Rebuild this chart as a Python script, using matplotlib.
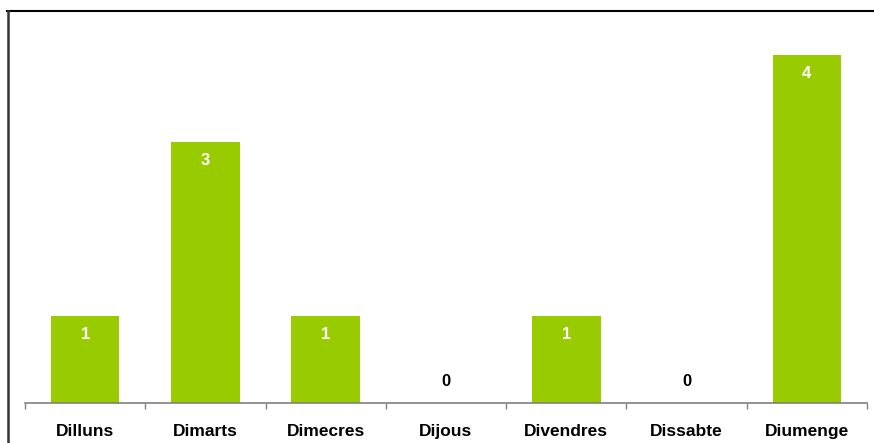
import matplotlib
matplotlib.use("Agg")
import matplotlib.pyplot as plt
from matplotlib.lines import Line2D

plt.rcParams['font.family'] = ['Liberation Sans', 'DejaVu Sans']

days = ['Dilluns', 'Dimarts', 'Dimecres', 'Dijous', 'Divendres', 'Dissabte', 'Diumenge']
counts = [1, 3, 1, 0, 1, 0, 4]

W, H = 874, 443
fig = plt.figure(figsize=(W / 100, H / 100), dpi=100)
ax = fig.add_axes([25 / W, 40 / H, (867 - 25) / W, (403 - 11) / H])

x = list(range(len(days)))
ax.bar(x, counts, width=0.57, color='#99CC00', zorder=2)

# value labels: white inside the bar, black above the axis for zeros
for xi, v in zip(x, counts):
    if v > 0:
        ax.annotate(str(v), (xi, v), xytext=(0, -19), textcoords='offset pixels',
                    ha='center', va='center', color='white', fontsize=12, fontweight='bold')
    else:
        ax.annotate(str(v), (xi, 0), xytext=(0, 22), textcoords='offset pixels',
                    ha='center', va='center', color='black', fontsize=12, fontweight='bold')

ax.set_xlim(-0.5, len(days) - 0.5)
ax.set_ylim(0, 4.5)
ax.set_yticks([])

# category boundaries carry the tick marks, names sit on the minor ticks
ax.set_xticks([i - 0.5 for i in range(len(days) + 1)])
ax.set_xticklabels([])
ax.set_xticks(x, minor=True)
ax.set_xticklabels(days, minor=True, fontsize=12.5, fontweight='bold')
ax.tick_params(axis='x', which='minor', length=0, pad=15)
ax.tick_params(axis='x', which='major', length=4, width=1, color='#808080', direction='out')

for s in ['left', 'top', 'right']:
    ax.spines[s].set_visible(False)
ax.spines['bottom'].set_color('#808080')
ax.spines['bottom'].set_linewidth(1.2)

# outer chart frame, cut off at the right and bottom edges
fig.add_artist(Line2D([7 / W, 1], [1 - 11 / H, 1 - 11 / H], transform=fig.transFigure,
                      color='black', linewidth=1.5))
fig.add_artist(Line2D([7.5 / W, 7.5 / W], [0, 1 - 11 / H], transform=fig.transFigure,
                      color='#333333', linewidth=1.8))

fig.savefig('out.png', dpi=100)
